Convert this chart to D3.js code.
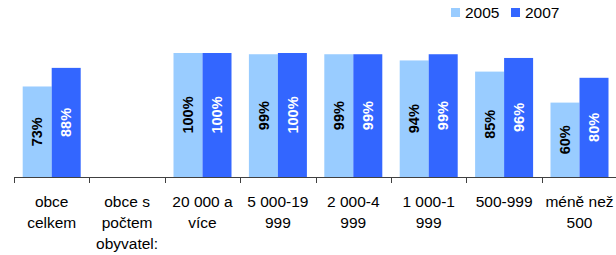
<!DOCTYPE html>
<html>
<head>
<meta charset="utf-8">
<script src="https://cdn.jsdelivr.net/npm/d3@7"></script>
<style>
  html, body { margin: 0; padding: 0; background: #fff; }
  svg { display: block; font-family: "Liberation Sans", Arial, sans-serif; }
</style>
</head>
<body>
<svg id="chart" width="616" height="255"></svg>
<script>
const categories = ["obce\ncelkem", "obce s\npočtem\nobyvatel:", "20 000 a\nvíce", "5 000-19\n999", "2 000-4\n999", "1 000-1\n999", "500-999", "méně než\n500"];
const seriesNames = ["2005", "2007"];
const values2005 = [73, null, 100, 99, 99, 94, 85, 60];
const values2007 = [88, null, 100, 100, 99, 99, 96, 80];
const seriesColors = ["#99CCFF", "#3366FF"];
const labelColors = ["#000000", "#FFFFFF"];

const svg = d3.select("#chart");
const left = 14, bandW = 75.4, base = 177, top100 = 53;

const x = d3.scaleBand().domain(categories.map((c, i) => i)).range([left, left + bandW * categories.length]).padding(0);
const x1 = d3.scaleBand().domain(seriesNames).range([8.7, bandW - 8.7]).padding(0);
const y = d3.scaleLinear().domain([0, 100]).range([base, top100]);

const seriesVals = [values2005, values2007];
const rows = [];
categories.forEach((c, i) => {
  seriesNames.forEach((s, j) => {
    const v = seriesVals[j][i];
    if (v != null) rows.push({ i, s, j, v });
  });
});

svg.append("g").selectAll("rect").data(rows).join("rect")
  .attr("x", d => x(d.i) + x1(d.s))
  .attr("y", d => y(d.v))
  .attr("width", x1.bandwidth())
  .attr("height", d => y(0) - y(d.v))
  .attr("fill", d => seriesColors[d.j]);

svg.append("g").selectAll("text").data(rows).join("text")
  .attr("transform", d => {
    const cx = x(d.i) + x1(d.s) + x1.bandwidth() / 2;
    const cy = (y(d.v) + y(0)) / 2;
    return `translate(${cx},${cy}) rotate(-90)`;
  })
  .attr("text-anchor", "middle")
  .attr("dy", "0.36em")
  .attr("font-size", 14.5)
  .attr("font-weight", "bold")
  .attr("fill", d => labelColors[d.j])
  .text(d => d.v + "%");

// axis
const axisG = svg.append("g");
axisG.append("line")
  .attr("x1", left).attr("x2", left + bandW * categories.length)
  .attr("y1", base + 0.5).attr("y2", base + 0.5)
  .attr("stroke", "#404040").attr("stroke-width", 1);
axisG.selectAll("line.tick").data(categories.map((c, i) => i).concat([categories.length])).join("line")
  .attr("class", "tick")
  .attr("x1", d => Math.round(left + bandW * d) + 0.5)
  .attr("x2", d => Math.round(left + bandW * d) + 0.5)
  .attr("y1", base).attr("y2", base + 6)
  .attr("stroke", "#404040").attr("stroke-width", 1);

const catG = axisG.selectAll("text.cat").data(categories.map((c, i) => ({ c, i }))).join("text")
  .attr("class", "cat")
  .attr("text-anchor", "middle")
  .attr("font-size", 15.5)
  .attr("fill", "#000");
catG.selectAll("tspan").data(d => d.c.split("\n").map((t, k) => ({ t, k, i: d.i }))).join("tspan")
  .attr("x", d => x(d.i) + x.bandwidth() / 2)
  .attr("y", d => 207 + d.k * 21)
  .text(d => d.t);

// legend
const legend = svg.append("g");
const legendX = [451, 511];
seriesNames.forEach((s, j) => {
  legend.append("rect").attr("x", legendX[j]).attr("y", 8).attr("width", 9).attr("height", 9).attr("fill", seriesColors[j]);
  legend.append("text").attr("x", legendX[j] + 14).attr("y", 18).attr("font-size", 15.5).attr("fill", "#000").text(s);
});
</script>
</body>
</html>
